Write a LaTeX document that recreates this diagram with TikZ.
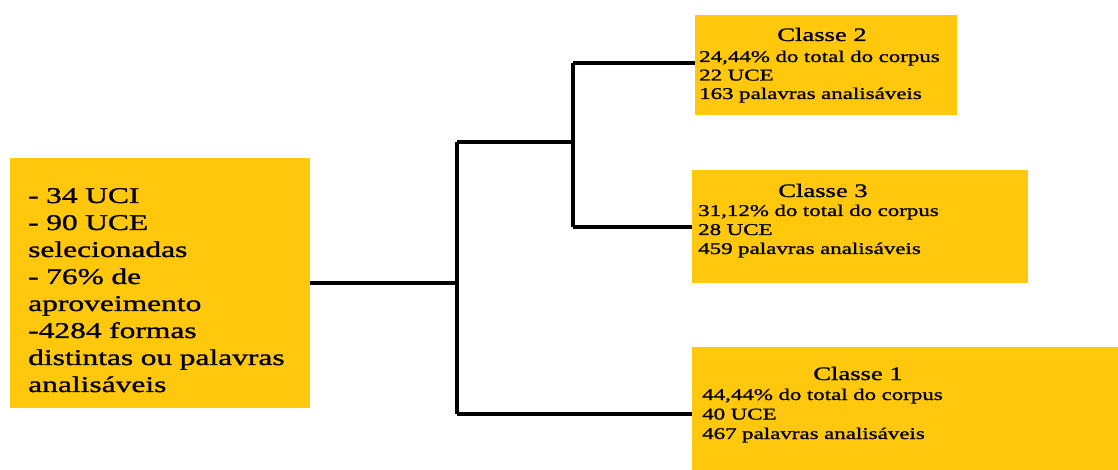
\documentclass[tikz,border=0pt]{standalone}
\usepackage{fontspec}
\setmainfont{Liberation Serif}[FakeStretch=1.4, FakeBold=1.2]
\definecolor{gold}{RGB}{255,200,12}
\tikzset{
  box/.style={fill=gold, draw=none, inner sep=0pt, rectangle},
  link/.style={line width=3.2pt, black},
  bodytext/.style={inner sep=0pt, anchor=base west, align=left, text width=#1},
  titletext/.style={inner sep=0pt, anchor=base, font=\fontsize{19pt}{22pt}\selectfont},
}
\begin{document}
\begin{tikzpicture}[x=1pt, y=-1pt]
  \useasboundingbox (0,0) rectangle (1118,470);

  % corpus summary and the three classes
  \node[box, minimum width=300pt, minimum height=250pt] (corpus) at (160,283) {};
  \node[box, minimum width=262pt, minimum height=100pt] (c2) at (826,65) {};
  \node[box, minimum width=336pt, minimum height=113pt] (c3) at (860,226.5) {};
  \node[box, minimum width=430pt, minimum height=126pt] (c1) at (907,410) {};

  \node[bodytext=290pt, font=\fontsize{22.5pt}{27pt}\selectfont] (corpustext) at (28,203)
    {- 34 UCI\\- 90 UCE\\selecionadas\\- 76\% de\\aproveimento\\-4284 formas\\distintas ou palavras\\analisáveis};

  \node[titletext] (c2title) at (822,41) {Classe 2};
  \node[bodytext=255pt, font=\fontsize{16.4pt}{18.5pt}\selectfont] (c2text) at (699,62)
    {24,44\% do total do corpus\\22 UCE\\163 palavras analisáveis};

  \node[titletext] (c3title) at (823,197) {Classe 3};
  \node[bodytext=325pt, font=\fontsize{16.4pt}{19pt}\selectfont] (c3text) at (698,216)
    {31,12\% do total do corpus\\28 UCE\\459 palavras analisáveis};

  \node[titletext] (c1title) at (858,380) {Classe 1};
  \node[bodytext=410pt, font=\fontsize{16.4pt}{19.5pt}\selectfont] (c1text) at (702,400)
    {44,44\% do total do corpus\\40 UCE\\467 palavras analisáveis};

  % dendrogram junctions
  \coordinate (ja) at (457,142);
  \coordinate (jb) at (457,414);
  \coordinate (jc) at (573,63);
  \coordinate (jd) at (573,227);

  \draw[link] (corpus.east) -- (corpus.east -| ja);
  \draw[link] (ja) -- (jb);
  \draw[link] (ja) -- (ja -| jc);
  \draw[link] (jc) -- (jd);
  \draw[link] (jc) -- (c2.west |- jc);
  \draw[link] (jd) -- (c3.west |- jd);
  \draw[link] (jb) -- (c1.west |- jb);
\end{tikzpicture}
\end{document}
